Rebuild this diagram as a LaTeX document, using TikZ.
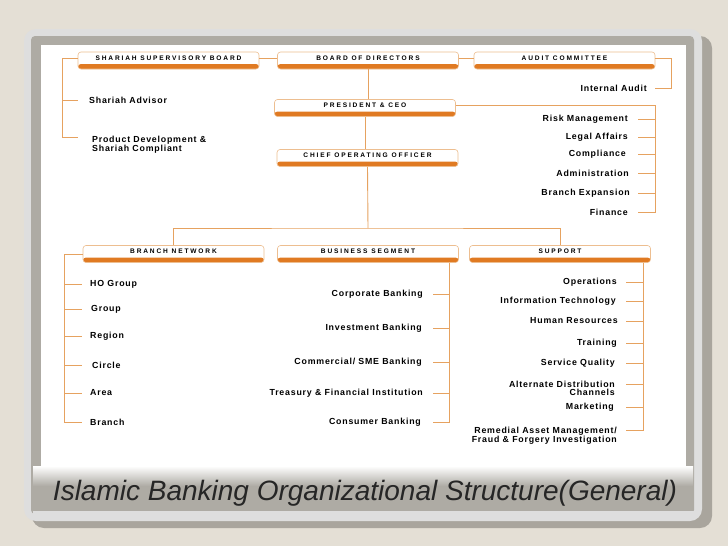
\documentclass[tikz,border=0pt]{standalone}
\usepackage{fontspec}
\setmainfont{Liberation Sans}
\newfontfamily\boxfont[LetterSpace=28]{Liberation Sans}
\newfontfamily\itemfont[LetterSpace=9]{Liberation Sans}
\definecolor{bgbeige}{HTML}{E4DFD5}
\definecolor{framelight}{HTML}{DEDEDE}
\definecolor{shadowgray}{HTML}{A9A59D}
\definecolor{bandgray}{HTML}{AEABA4}
\definecolor{linkorange}{HTML}{E6A260}
\definecolor{barorange}{HTML}{E07A22}
\begin{document}
\begin{tikzpicture}[x=1pt,y=-1pt,
  hdbox/.style={draw=linkorange!70, line width=0.6pt, fill=white, rounded corners=3pt,
    minimum width=181pt, minimum height=17pt, inner sep=0pt,
    text height=5.5pt, text depth=6.5pt,
    font=\boxfont\bfseries\fontsize{6.6}{7}\selectfont,
    path picture={\fill[barorange] (path picture bounding box.south west)
      rectangle ([yshift=5pt]path picture bounding box.south east);}},
  item/.style={inner sep=0pt, font=\itemfont\bfseries\fontsize{8.8}{8}\selectfont},
  litem/.style={item, anchor=west, align=left},
  ritem/.style={item, anchor=east, align=right},
  link/.style={draw=linkorange, line width=0.9pt}]

\fill[bgbeige] (0,0) rectangle (728,546);
\fill[shadowgray, rounded corners=12pt] (32,36) rectangle (712,528);
\fill[framelight, rounded corners=12pt] (24,29) rectangle (702,521);
\fill[bandgray, rounded corners=4pt] (31,36) rectangle (694,514);
\shade[top color=white, bottom color=bandgray] (33,466) rectangle (693,486);
\fill[white] (41,45) rectangle (686,466);
\fill[framelight] (33,511) rectangle (694,519);

% top row
\node[hdbox] (ssb) at (168.5,60.5) {SHARIAH SUPERVISORY BOARD};
\node[hdbox] (bod) at (368,60.5) {BOARD OF DIRECTORS};
\node[hdbox] (audit) at (564.5,60.5) {AUDIT COMMITTEE};
\node[hdbox] (ceo) at (365,108) {PRESIDENT \& CEO};
\node[hdbox] (coo) at (367.5,158) {CHIEF OPERATING OFFICER};

% third row
\node[hdbox] (branch) at (173.5,254) {BRANCH NETWORK};
\node[hdbox] (business) at (368,254) {BUSINESS SEGMENT};
\node[hdbox] (support) at (560,254) {SUPPORT};

% items
\node[litem] (advisor) at (89,100) {Shariah Advisor};
\node[item, anchor=north west, align=left] (proddev) at (92,135.5) {Product Development \&\\Shariah Compliant};
\node[ritem] (intaudit) at (647,88) {Internal Audit};
\node[ritem] (risk) at (628,119) {Risk Management};
\node[ritem] (legal) at (628,137) {Legal Affairs};
\node[ritem] (compl) at (626,154) {Compliance};
\node[ritem] (admin) at (629,173) {Administration};
\node[ritem] (expand) at (630,193) {Branch Expansion};
\node[ritem] (finance) at (628,212) {Finance};

\node[litem] (hog) at (90,284) {HO Group};
\node[litem] (grp) at (91,309) {Group};
\node[litem] (region) at (90,336) {Region};
\node[litem] (circle) at (92,365) {Circle};
\node[litem] (area) at (90,393) {Area};
\node[litem] (brn) at (90,422) {Branch};

\node[ritem] (corp) at (423,294) {Corporate Banking};
\node[ritem] (invest) at (422,328) {Investment Banking};
\node[ritem] (sme) at (422,362) {Commercial/ SME Banking};
\node[ritem] (treasury) at (423,393) {Treasury \& Financial Institution};
\node[ritem] (consumer) at (421,422) {Consumer Banking};

\node[ritem] (ops) at (617,282) {Operations};
\node[ritem] (infotech) at (616,301) {Information Technology};
\node[ritem] (hr) at (618,321) {Human Resources};
\node[ritem] (training) at (617,343) {Training};
\node[ritem] (quality) at (615,363) {Service Quality};
\node[item, anchor=north east, align=right] (adc) at (615,380.5) {Alternate Distribution\\Channels};
\node[ritem] (marketing) at (614,407) {Marketing};
\node[item, anchor=north east, align=right] (remedial) at (617,426.5) {Remedial Asset Management/\\Fraud \& Forgery Investigation};

\node[font=\itshape\fontsize{28}{30}\selectfont, text=black!85, inner sep=0pt] (title) at (365,493) {Islamic Banking Organizational Structure(General)};

% rails
\coordinate (sl) at (62,0);
\coordinate (ar) at (671,0);
\coordinate (cr) at (655,0);
\coordinate (bl) at (64,0);
\coordinate (br) at (449,0);
\coordinate (sr) at (643,0);
\coordinate (bus) at (368,228);

% connectors
\draw[link] ([yshift=2pt]ssb.east) -- ([yshift=2pt]bod.west);
\draw[link] ([yshift=2pt]bod.east) -- ([yshift=2pt]audit.west);
\draw[link] (bod.south) -- (bod.south |- ceo.north);
\draw[link] (ceo.south) -- (ceo.south |- coo.north);
\draw[link] (coo.south) -- (bus);
\draw[link] (branch.north) |- (bus) -| (support.north);

\draw[link] ([yshift=2pt]ssb.west) -| ([yshift=-2pt]sl |- proddev.north) -- ++(16,0);
\draw[link] (sl |- advisor.west) -- ++(16,0);
\draw[link] ([yshift=2pt]audit.east) -| (ar |- intaudit.east) -- ++(-16,0);
\draw[link] ([yshift=2.5pt]ceo.east) -| (cr |- finance.east) -- ++(-17,0);
\foreach \n in {risk,legal,compl,admin,expand}
  \draw[link] (cr |- \n.east) -- ++(-17,0);

\draw[link] (branch.west) -| (bl |- brn.west) -- ++(18,0);
\foreach \n in {hog,grp,region,circle,area}
  \draw[link] (bl |- \n.west) -- ++(18,0);

\draw[link] (br |- business.south) -- (br |- consumer.east) -- ++(-16,0);
\foreach \n in {corp,invest,sme,treasury}
  \draw[link] (br |- \n.east) -- ++(-16,0);

\draw[link] (sr |- support.south) -- ([yshift=-3.5pt]sr |- remedial.north) -- ++(-17,0);
\foreach \n in {ops,infotech,hr,training,quality,marketing}
  \draw[link] (sr |- \n.east) -- ++(-17,0);
\draw[link] ([yshift=-3.5pt]sr |- adc.north) -- ++(-17,0);
\end{tikzpicture}
\end{document}
